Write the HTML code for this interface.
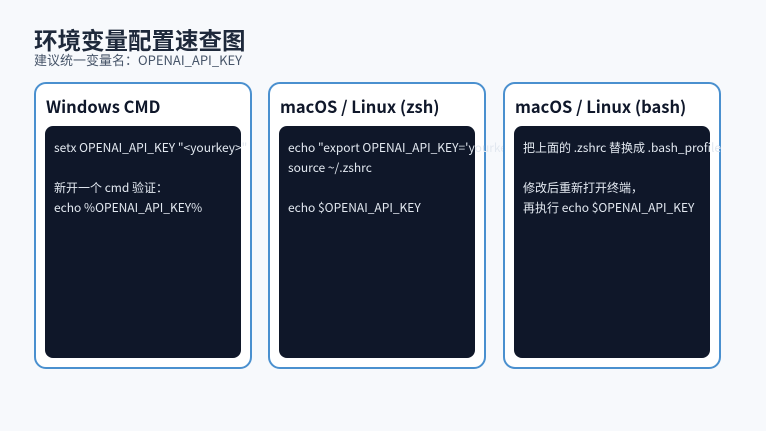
<!DOCTYPE html>
<html><head><meta charset="utf-8"><style>
body{margin:0;width:766px;height:431px;background:#f7f9fc;font-family:"Liberation Sans","Noto Sans CJK SC",sans-serif;position:relative;overflow:hidden}
.t{position:absolute;left:34px;top:24px;font-size:23.5px;font-weight:bold;color:#1e293b;line-height:30px;font-family:"Noto Sans CJK SC",sans-serif}
.s{position:absolute;left:34px;top:51px;font-size:13px;color:#475569;line-height:18px;font-family:"Noto Sans CJK SC",sans-serif}
.c{position:absolute;top:82px;width:214px;height:283px;border:2px solid #4a90cf;border-radius:12px;background:#fff}
.h{position:absolute;left:10px;top:10px;font-size:16.5px;font-weight:bold;color:#0f172a;line-height:24px;font-family:"Noto Sans CJK SC",sans-serif;white-space:nowrap}
.d{position:absolute;left:9px;top:42px;width:196px;height:232px;background:#0f1729;border-radius:8px}
.x{position:absolute;left:9px;top:12px;font-size:12px;line-height:20px;color:#e2e8f0;white-space:pre;font-family:"Noto Sans CJK SC",sans-serif}
</style></head><body>
<div class="t">环境变量配置速查图</div>
<div class="s">建议统一变量名：OPENAI_API_KEY</div>
<div class="c" style="left:34px"><div class="h">Windows CMD</div><div class="d"><div class="x">setx OPENAI_API_KEY "&lt;yourkey&gt;"

新开一个 cmd 验证：
echo %OPENAI_API_KEY%</div></div></div>
<div class="c" style="left:268px"><div class="h">macOS / Linux (zsh)</div><div class="d"><div class="x">echo "export OPENAI_API_KEY='yourkey'" &gt;&gt; ~/.zshrc
source ~/.zshrc

echo $OPENAI_API_KEY</div></div></div>
<div class="c" style="left:503px"><div class="h">macOS / Linux (bash)</div><div class="d"><div class="x">把上面的 .zshrc 替换成 .bash_profile

修改后重新打开终端，
再执行 echo $OPENAI_API_KEY</div></div></div>
</body></html>
